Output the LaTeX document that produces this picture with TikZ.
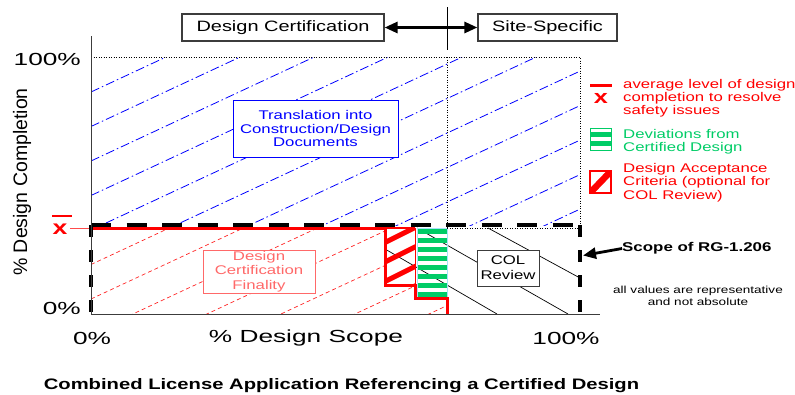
\documentclass[tikz,border=0pt]{standalone}
\usepackage{fontspec}
\setmainfont{Liberation Sans}[FakeStretch=1.33]
\newfontfamily\axisfont{Liberation Sans}[FakeStretch=1.5]
\newfontfamily\ylabfont{Liberation Sans}
\usetikzlibrary{arrows.meta}
\definecolor{cblue}{RGB}{0,0,255}
\definecolor{cred}{RGB}{255,0,0}
\definecolor{cpink}{RGB}{255,105,105}
\definecolor{cgreen}{RGB}{0,204,102}
\definecolor{cgray}{RGB}{60,60,60}
\newcommand{\fsz}[1]{\fontsize{#1}{#1}\selectfont}
\begin{document}
\begin{tikzpicture}[x=1pt,y=-1pt,
  box/.style={draw=cgray, line width=1.2pt, fill=white, inner sep=0pt, align=center},
  bluel/.style={cblue, line width=0.8pt, dash pattern=on 9pt off 3pt on 1.5pt off 3pt},
  redl/.style={red!85, line width=0.7pt, dash pattern=on 4pt off 3pt},
  coll/.style={black, line width=0.7pt},
  dotl/.style={black, line width=0.8pt, dash pattern=on 1pt off 1.5pt},
  thickdash/.style={black, line width=3.6pt, dash pattern=on 20pt off 15.5pt},
  vdash/.style={black, line width=3.6pt, dash pattern=on 11.5pt off 13.5pt},
  stair/.style={cred, line width=3pt, line join=miter},
  axisl/.style={cgray, line width=1pt},
  legtxt/.style={anchor=west, align=left, inner sep=0pt, font=\fontsize{12.6}{13.4}\selectfont},
  axlab/.style={inner sep=0pt, font=\axisfont\fsz{17.5}},
  bigarrow/.style={line width=2.8pt, -{Triangle[length=13pt,width=11pt]}},
  dblarrow/.style={line width=2.8pt, {Triangle[length=13pt,width=11pt]}-{Triangle[length=13pt,width=11pt]}}
]
\useasboundingbox (0,0) rectangle (795,394);

% ---- blue dash-dot hatching (upper region)
\begin{scope}
  \clip (91,57) rectangle (580,225);
  \foreach \k in {0,...,13}{
    \pgfmathsetmacro{\c}{92+34.5*\k}
    \pgfmathsetmacro{\d}{\c-227.9}
    \draw[bluel] (91,\c) -- (580,\d);
  }
\end{scope}

% ---- red dashed hatching (design certification finality region)
\begin{scope}
  \clip (91,228) -- (385,228) -- (385,285) -- (415,285) -- (415,298) -- (447,298) -- (447,314) -- (91,314) -- cycle;
  \foreach \k in {0,...,13}{
    \pgfmathsetmacro{\c}{92+34.5*\k}
    \pgfmathsetmacro{\d}{\c-227.9}
    \draw[redl] (91,\c) -- (580,\d);
  }
\end{scope}

% ---- COL review black lines
\draw[coll] (417,228) -- (568,314);
\draw[coll] (385,249) -- (497,314);
\draw[coll] (488,228) -- (580,278);

% ---- design acceptance criteria hatch
\begin{scope}
  \clip (385,228) rectangle (415,285);
  \foreach \c in {223.5,243,262.5,282,301.5}{
    \pgfmathsetmacro{\d}{\c-16}
    \draw[cred, line width=5pt] (384,\c) -- (416,\d);
  }
\end{scope}
\draw[cred, line width=0.8pt] (385,228) rectangle (415,285);

% ---- deviations (green bars)
\foreach \i in {0,...,7}{
  \pgfmathsetmacro{\ya}{229+9*\i}
  \pgfmathsetmacro{\yb}{\ya+4.6}
  \fill[cgreen] (417,\ya) rectangle (447,\yb);
}
\draw[cyan!35, line width=0.7pt] (417,228) rectangle (447,298);

% ---- red staircase
\draw[stair] (91,228) -- (385,228) -- (385,285) -- (415,285) -- (415,298) -- (447,298) -- (447,315);
\draw[cred, line width=2.5pt] (385,228) -- (415,228);

% ---- dotted lines
\draw[dotl] (91,57) -- (580,57) -- (580,225);
\draw[dotl] (447,57) -- (447,228);
\draw[dotl] (447,228) -- (580,228);

% ---- scope of RG-1.206 dashed outline
\draw[thickdash] (91,225) -- (582,225);
\draw[vdash] (91,225) -- (91,314);
\draw[vdash] (580,225) -- (580,314);

% ---- axes
\draw[axisl] (91,36) -- (91,314);
\draw[axisl] (91,314) -- (600,314);

% ---- top boxes and divider
\node[box, minimum width=202pt, minimum height=27pt, font=\fsz{15}] (dc) at (283,27.5) {Design Certification};
\node[box, minimum width=139pt, minimum height=27pt, font=\fsz{15}] (ss) at (547.5,27.5) {Site-Specific};
\coordinate (divtop) at (447,7);
\coordinate (divbot) at (447,50);
\draw[black, line width=1pt] (divtop) -- (divbot);
\draw[dblarrow] (dc.east) -- (ss.west);

% ---- region boxes
\node[box, draw=cblue, line width=1pt, text=cblue, minimum width=165pt, minimum height=57pt,
      font=\fontsize{12.6}{13.8}\selectfont] (tr) at (315.5,128.5) {Translation into\\Construction/Design\\Documents};
\node[box, draw=cpink, line width=1pt, text=cpink, minimum width=112pt, minimum height=43pt,
      font=\fontsize{12.6}{14.5}\selectfont] (dcf) at (259,271.5) {Design\\Certification\\Finality};
\node[box, line width=1pt, minimum width=62pt, minimum height=36pt,
      font=\fontsize{12.6}{15}\selectfont] (col) at (508,268) {COL\\Review};

% ---- axis labels
\node[axlab, anchor=east] (y100) at (81,59) {100\%};
\node[axlab, anchor=east] (y0) at (81,308) {0\%};
\node[axlab] (x0) at (92,338) {0\%};
\node[axlab] (xs) at (306,338) {\% Design Scope};
\node[axlab] (x100) at (566,338) {100\%};
\node[inner sep=0pt, rotate=90, font=\ylabfont\fsz{19.5}] (ylab) at (22,182) {\% Design Completion};

% ---- x mark on y axis
\draw[cred, line width=2.5pt] (52,216) -- (72,216);
\node[text=cred, inner sep=0pt, font=\bfseries\fsz{20}] (xm) at (60,229) {x};
\draw[cred!70, line width=1pt] (70,228) -- (89,228);

% ---- legend
\draw[cred, line width=3pt] (590,85) -- (612,85);
\node[text=cred, inner sep=0pt, font=\bfseries\fsz{19}] (lx) at (601,98) {x};
\node[legtxt, text=cred] (l1) at (623,98.3) {average level of design\\completion to resolve\\safety issues};

\draw[cgreen, line width=1pt] (590,128.5) rectangle (611,150);
\fill[cgreen] (590,131.7) rectangle (611,136.7);
\fill[cgreen] (590,141) rectangle (611,146);
\node[legtxt, text=cgreen] (l2) at (623,141.5) {Deviations from\\Certified Design};

\begin{scope}
  \clip (590,171) rectangle (611,193);
  \draw[cred, line width=6.5pt] (587,196) -- (614,168);
\end{scope}
\draw[cred, line width=1.2pt] (590,171) rectangle (611,193);
\node[legtxt, text=cred] (l3) at (623,182.7) {Design Acceptance\\Criteria (optional for\\COL Review)};

% ---- scope label
\node[anchor=west, inner sep=0pt, font=\bfseries\fsz{12.7}] (scope) at (622,248.5) {Scope of RG-1.206};
\coordinate (scopetip) at (583,255.5);
\draw[bigarrow] (scope.west) -- (scopetip);

\node[inner sep=0pt, align=center, font=\fontsize{10.2}{11.5}\selectfont] (note) at (698,296) {all values are representative\\and not absolute};

% ---- title
\node[anchor=base, inner sep=0pt, font=\bfseries\fsz{15.2}] (title) at (341.5,389) {Combined License Application Referencing a Certified Design};
\end{tikzpicture}
\end{document}
